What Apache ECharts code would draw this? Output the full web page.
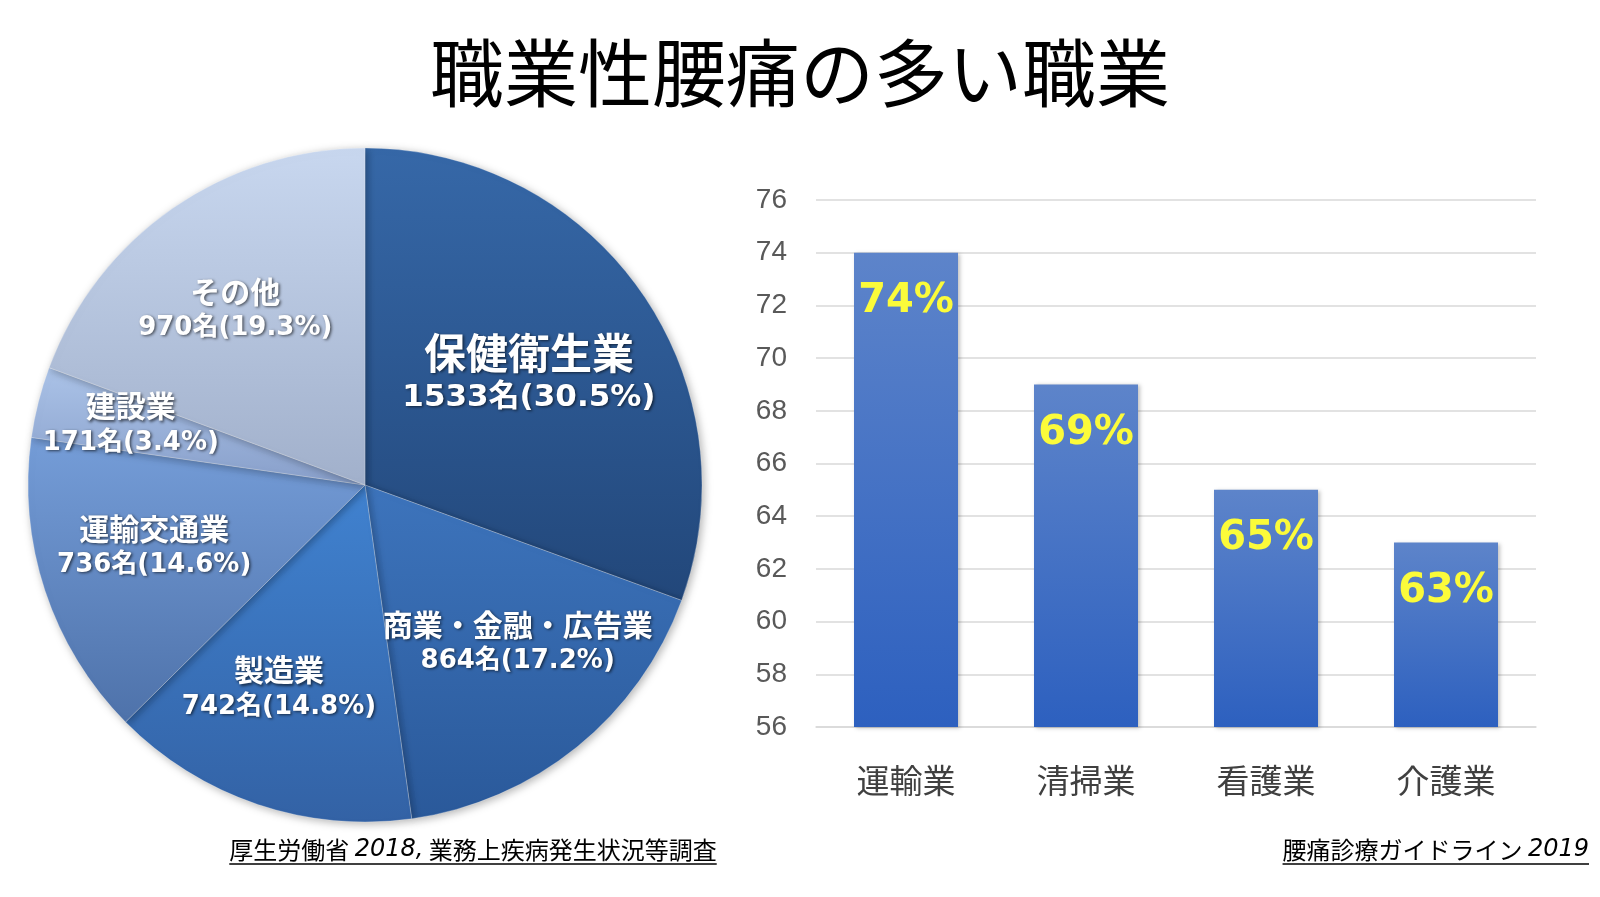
<!DOCTYPE html>
<html><head><meta charset="utf-8">
<script src="https://cdn.jsdelivr.net/npm/echarts@6/dist/echarts.min.js"></script>
<style>html,body{margin:0;padding:0;background:#fff}#c{width:1600px;height:897px}</style>
</head><body><div id="c"></div>
<script>
// ---- data ----
const titleText = '職業性腰痛の多い職業';
const pieNames = ['保健衛生業', '商業・金融・広告業', '製造業', '運輸交通業', '建設業', 'その他'];
const pieValues = [1533, 864, 742, 736, 171, 970];
const piePercents = ['30.5', '17.2', '14.8', '14.6', '3.4', '19.3'];
const barCategories = ['運輸業', '清掃業', '看護業', '介護業'];
const barValues = [74, 69, 65, 63];
const yMin = 56, yMax = 76, yInterval = 2;
const sourceLeftParts = ['厚生労働省 ', '2018,', ' 業務上疾病発生状況等調査'];
const sourceRightParts = ['腰痛診療ガイドライン ', '2019'];

// ---- styles ----
const pieColors = [
  ['#3668a8', '#22477a'],
  ['#3d74bc', '#2a599a'],
  ['#4082d0', '#3362a5'],
  ['#759dd8', '#4e72aa'],
  ['#abc3e8', '#889fca'],
  ['#c8d7ef', '#a1b0cb']
];
// label nudges (style only, px)
const pieLabelNudge = [[-18, 17], [13, -15], [-15, -7], [0, -8], [-19, -6], [-3, 7]];
const CJK = '"Noto Sans CJK JP", "Noto Sans CJK SC", sans-serif';
const LAT = '"DejaVu Sans", "Noto Sans CJK JP", sans-serif';
const cx = 365, cy = 485, R = 337;

const chart = echarts.init(document.getElementById('c'), null, {renderer: 'canvas'});

function grad(c) {
  return new echarts.graphic.LinearGradient(0, 0, 0, 1, [
    {offset: 0, color: c[0]}, {offset: 1, color: c[1]}
  ]);
}

const pieData = pieNames.map((n, i) => ({
  name: n, value: pieValues[i],
  itemStyle: {color: grad(pieColors[i])}
}));
const pieLabelData = pieNames.map((n, i) => ({name: n, value: pieValues[i]}));

const shadow = {textShadowColor: 'rgba(0,0,0,0.6)', textShadowBlur: 3, textShadowOffsetX: 1.5, textShadowOffsetY: 1.5};

// measure text for underline
const mctx = document.createElement('canvas').getContext('2d');
function tw(t, font) { mctx.font = font; return mctx.measureText(t).width; }
const SRC_FS = 24;
const fN = SRC_FS + 'px ' + CJK;
const fI = 'italic ' + SRC_FS + 'px ' + LAT;
const wLeft = tw(sourceLeftParts[0], fN) + tw(sourceLeftParts[1], fI) + tw(sourceLeftParts[2], fN);
const wRight = tw(sourceRightParts[0], fN) + tw(sourceRightParts[1], fI);
const leftCx = 473, srcY = 850, rightX = 1589;

const srcRich = {
  a: {fontSize: SRC_FS, fontFamily: CJK, color: '#000'},
  b: {fontSize: SRC_FS, fontFamily: LAT, fontStyle: 'italic', color: '#000'}
};

const option = {
  backgroundColor: '#fff',
  animation: false,
  title: {
    text: titleText, left: 'center', top: 31,
    textStyle: {fontSize: 74, fontWeight: 'normal', color: '#000', fontFamily: CJK}
  },
  grid: {left: 816, right: 64, top: 200, bottom: 170},
  xAxis: {
    type: 'category', data: barCategories,
    axisLine: {lineStyle: {color: '#d9d9d9', width: 1.5}},
    axisTick: {show: false},
    axisLabel: {fontSize: 33, color: '#404040', margin: 37, fontFamily: CJK}
  },
  yAxis: {
    type: 'value', min: yMin, max: yMax, interval: yInterval,
    axisLine: {show: false}, axisTick: {show: false},
    splitLine: {lineStyle: {color: '#d9d9d9', width: 1.5}},
    axisLabel: {fontSize: 28, color: '#595959', margin: 29, fontFamily: '"Liberation Sans Narrow", "Liberation Sans", sans-serif'}
  },
  series: [
    {
      type: 'bar', data: barValues, barWidth: 104,
      itemStyle: {
        color: new echarts.graphic.LinearGradient(0, 0, 0, 1, [
          {offset: 0, color: '#5d84ca'}, {offset: 1, color: '#2d60bf'}
        ]),
        shadowColor: 'rgba(0,0,0,0.25)', shadowBlur: 4, shadowOffsetX: 2, shadowOffsetY: 1
      },
      label: {
        show: true, position: 'insideTop', distance: 29, formatter: '{c}%',
        color: '#fbfb3a', fontSize: 40, fontWeight: 'bold', fontFamily: LAT
      }
    },
    {
      type: 'pie', center: [cx, cy], radius: R, startAngle: 90, clockwise: true,
      silent: true, label: {show: false}, labelLine: {show: false},
      itemStyle: {borderColor: 'rgba(255,255,255,0.25)', borderWidth: 1,
        shadowColor: 'rgba(0,0,0,0.3)', shadowBlur: 8, shadowOffsetX: 2, shadowOffsetY: 2},
      data: pieData
    },
    {
      type: 'pie', center: [cx, cy], radius: R * 1.3, startAngle: 90, clockwise: true,
      silent: true, labelLine: {show: false}, avoidLabelOverlap: false,
      itemStyle: {color: 'rgba(0,0,0,0)', borderWidth: 0},
      labelLayout: p => ({dx: pieLabelNudge[p.dataIndex][0], dy: pieLabelNudge[p.dataIndex][1], hideOverlap: false}),
      label: {
        show: true, position: 'inside',
        formatter: p => p.dataIndex === 0
          ? '{N|' + p.name + '}\n{V|' + p.value + '名(' + piePercents[p.dataIndex] + '%)}'
          : '{n|' + p.name + '}\n{v|' + p.value + '名(' + piePercents[p.dataIndex] + '%)}',
        rich: {
          N: Object.assign({fontSize: 42, fontWeight: 'bold', color: '#fff', fontFamily: CJK, lineHeight: 46}, shadow),
          V: Object.assign({fontSize: 31, fontWeight: 'bold', color: '#fff', fontFamily: LAT, lineHeight: 44}, shadow),
          n: Object.assign({fontSize: 30, fontWeight: 'bold', color: '#fff', fontFamily: CJK, lineHeight: 37}, shadow),
          v: Object.assign({fontSize: 26, fontWeight: 'bold', color: '#fff', fontFamily: LAT, lineHeight: 37}, shadow)
        }
      },
      data: pieLabelData
    }
  ],
  graphic: [
    {type: 'text', x: leftCx, y: srcY, style: {
      text: '{a|' + sourceLeftParts[0] + '}{b|' + sourceLeftParts[1] + '}{a|' + sourceLeftParts[2] + '}',
      rich: srcRich, align: 'center', verticalAlign: 'middle'}},
    {type: 'line', shape: {x1: leftCx - wLeft / 2, y1: srcY + 14, x2: leftCx + wLeft / 2, y2: srcY + 14},
      style: {stroke: '#000', lineWidth: 1.5}},
    {type: 'text', x: rightX, y: srcY, style: {
      text: '{a|' + sourceRightParts[0] + '}{b|' + sourceRightParts[1] + '}',
      rich: srcRich, align: 'right', verticalAlign: 'middle'}},
    {type: 'line', shape: {x1: rightX - wRight, y1: srcY + 14, x2: rightX, y2: srcY + 14},
      style: {stroke: '#000', lineWidth: 1.5}}
  ]
};
chart.setOption(option);
</script>
</body></html>
